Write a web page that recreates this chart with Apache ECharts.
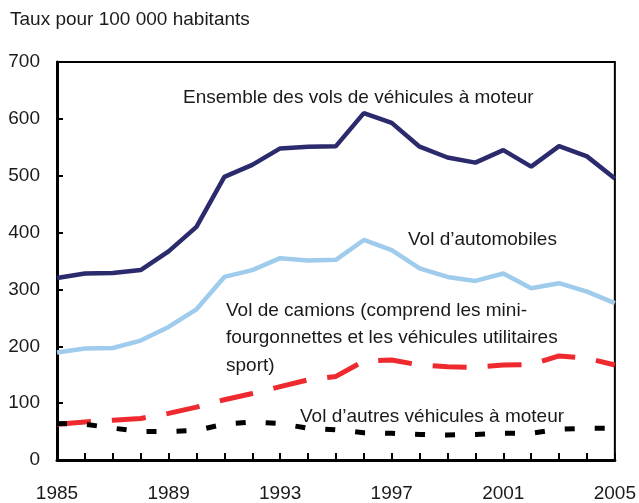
<!DOCTYPE html>
<html>
<head>
<meta charset="utf-8">
<script src="https://cdn.jsdelivr.net/npm/echarts@6/dist/echarts.min.js"></script>
<style>
  html, body { margin: 0; padding: 0; background: #fff; }
  #chart { width: 639px; height: 503px; }
</style>
</head>
<body>
<div id="chart"></div>
<script>
  // années
  var years = ['1985', '1986', '1987', '1988', '1989', '1990', '1991', '1992', '1993', '1994', '1995',
    '1996', '1997', '1998', '1999', '2000', '2001', '2002', '2003', '2004', '2005']
  // taux pour 100 000 habitants
  var ensemble = [320, 328, 329, 334, 367, 410, 498, 519, 548, 551, 552, 610, 593, 551, 532, 523, 545, 516, 552, 534, 495]
  var automobiles = [189, 196, 197, 210, 234, 265, 322, 334, 355, 351, 352, 387, 369, 337, 322, 315, 328, 302, 311, 296, 276]
  var camions = [63, 67, 70, 73, 82, 93, 106, 117, 129, 141, 147, 174, 176, 167, 164, 163, 167, 168, 183, 179, 167]
  var autres = [64, 63, 56, 50, 50, 52, 63, 67, 64, 56, 53, 48, 47, 45, 44, 45, 47, 47, 54, 56, 56]

  var font = '"Liberation Sans", Arial, sans-serif'

  var chart = echarts.init(document.getElementById('chart'))

  function note (x, y, text) {
    return {
      type: 'text', left: x, top: y,
      style: { text: text, font: '19px ' + font, fill: '#1a1a1a', lineHeight: 27.5 }
    }
  }

  chart.setOption({
    animation: false,
    grid: {
      left: 57, right: 23, top: 62, bottom: 43,
      show: true, borderColor: '#000', borderWidth: 2, backgroundColor: 'transparent'
    },
    xAxis: {
      type: 'category',
      data: years,
      boundaryGap: false,
      axisLine: { lineStyle: { color: '#000', width: 3 } },
      axisTick: { inside: true, length: 7, interval: 0, lineStyle: { color: '#000', width: 2 } },
      axisLabel: { interval: 3, margin: 24, color: '#1a1a1a', fontSize: 19, fontFamily: font },
      splitLine: { show: false }
    },
    yAxis: {
      type: 'value',
      min: 0, max: 700, interval: 100,
      axisLine: { show: true, lineStyle: { color: '#000', width: 3 } },
      axisTick: { show: true, inside: true, length: 6, lineStyle: { color: '#000', width: 2 } },
      axisLabel: { margin: 17, color: '#1a1a1a', fontSize: 19, fontFamily: font },
      splitLine: { show: false }
    },
    graphic: [
      note(10, 6, 'Taux pour 100 000 habitants'),
      note(183, 84, 'Ensemble des vols de véhicules à moteur'),
      note(408, 226, 'Vol d\u2019automobiles'),
      note(226, 297, 'Vol de camions (comprend les mini-\nfourgonnettes et les véhicules utilitaires\nsport)'),
      note(300, 403, 'Vol d\u2019autres véhicules à moteur')
    ],
    series: [
      {
        name: 'Ensemble', type: 'line', data: ensemble, symbol: 'none',
        lineStyle: { color: '#2a2a6c', width: 4.5 }
      },
      {
        name: 'Automobiles', type: 'line', data: automobiles, symbol: 'none',
        lineStyle: { color: '#9fcbec', width: 4.5 }
      },
      {
        name: 'Camions', type: 'line', data: camions, symbol: 'none',
        lineStyle: { color: '#ee2a2e', width: 5, type: [34, 21] }
      },
      {
        name: 'Autres', type: 'line', data: autres, symbol: 'none',
        lineStyle: { color: '#000', width: 5, type: [10, 20] }
      }
    ]
  })
</script>
</body>
</html>
